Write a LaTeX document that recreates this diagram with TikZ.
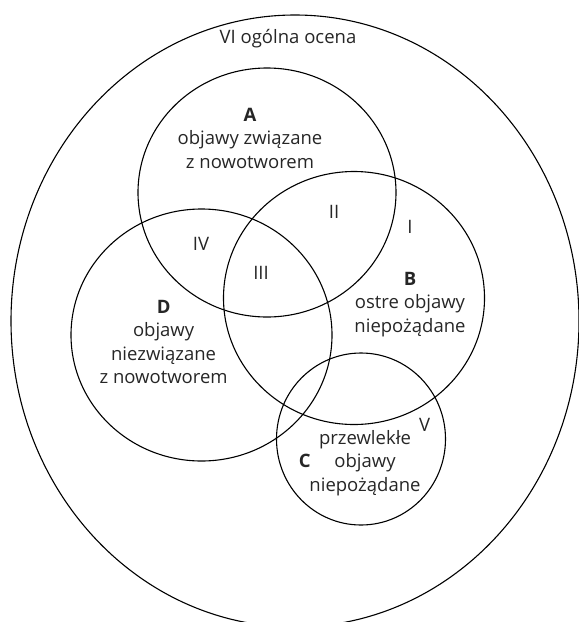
\documentclass[tikz,border=0pt]{standalone}
\usepackage{fontspec}
\setmainfont{Open Sans}
\begin{document}
\begin{tikzpicture}[x=1pt,y=-1pt,
  ring/.style={draw=black,line width=1.1pt},
  lbl/.style={font=\fontsize{18.5}{23.5}\selectfont,text=black!85,align=center,inner sep=0pt},
  num/.style={font=\fontsize{18.5}{20}\selectfont,text=black!85,inner sep=0pt}]
\useasboundingbox (0,0) rectangle (579,622);
\clip (0,0) rectangle (579,622);
\coordinate (cO) at (295,321);
\coordinate (cA) at (267,192.5);
\coordinate (cB) at (354,298);
\coordinate (cD) at (201.5,335);
\coordinate (cC) at (361,439);
\draw[ring] (cO) ellipse [x radius=284, y radius=306];
\draw[ring] (cA) ellipse [x radius=129, y radius=124.5];
\draw[ring] (cB) ellipse [x radius=130.5, y radius=126.5];
\draw[ring] (cD) ellipse [x radius=130.5, y radius=126];
\draw[ring] (cC) ellipse [x radius=84.5, y radius=86];
\node[lbl] (tVI) at (288,39) {VI ogólna ocena};
\node[lbl] (tA) at (250,138) {\textbf{A}\\objawy związane\\z nowotworem};
\node[lbl] (tB) at (410,304.6) {\textbf{B}\\ostre objawy\\niepożądane};
\node[lbl] (tD) at (163.6,342) {\textbf{D}\\objawy\\niezwiązane\\z nowotworem};
\node[lbl] (tC) at (365,463) {przewlekłe\\objawy\\niepożądane};
\node[lbl] (lC) at (304.7,461) {\textbf{C}};
\node[num] (rI) at (410,227) {I};
\node[num] (rII) at (334,212) {II};
\node[num] (rIII) at (261,272.5) {III};
\node[num] (rIV) at (201,244) {IV};
\node[num] (rV) at (424.7,424.7) {V};
\end{tikzpicture}
\end{document}
